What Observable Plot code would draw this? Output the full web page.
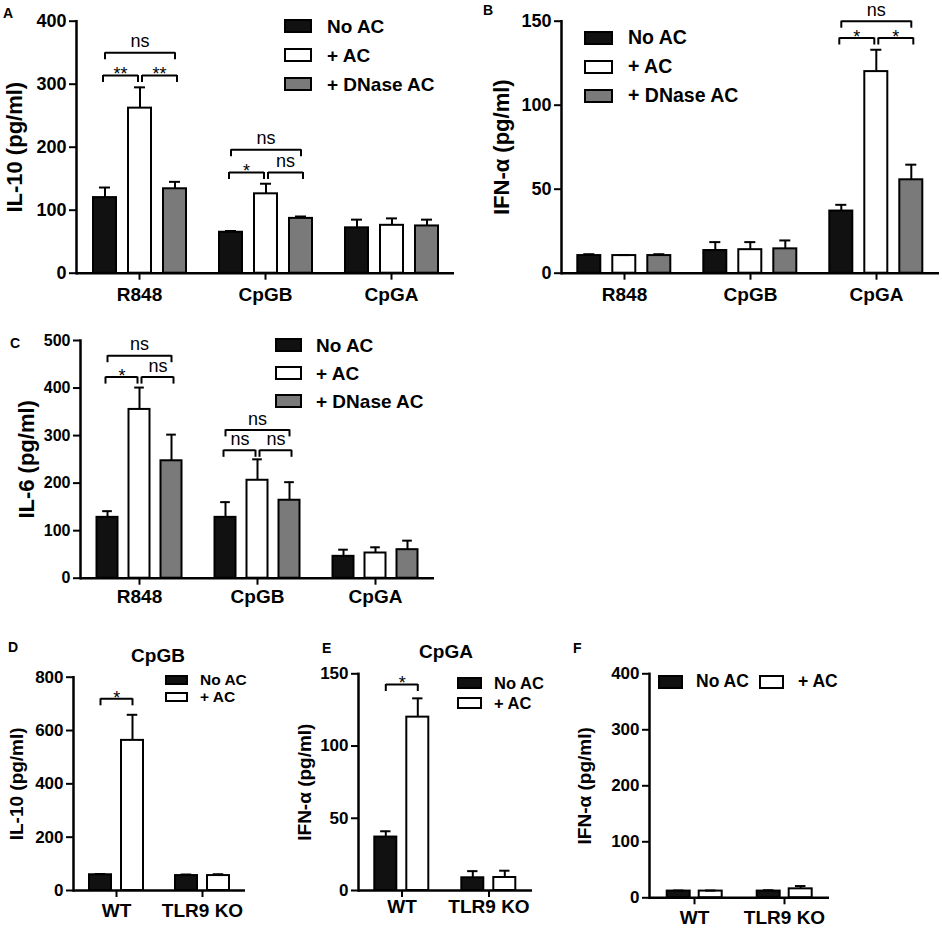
<!DOCTYPE html>
<html><head><meta charset="utf-8">
<script src="https://cdn.jsdelivr.net/npm/d3@7"></script>
<script src="https://cdn.jsdelivr.net/npm/@observablehq/plot@0.6"></script>
<style>
body{margin:0;background:#fff;}
#root{position:relative;width:942px;height:930px;overflow:hidden;font-family:"Liberation Sans",Arial,sans-serif;color:#000;}
.t{position:absolute;white-space:nowrap;line-height:1;font-weight:bold;}
.sw{position:absolute;box-sizing:border-box;border:2px solid #000;}
</style></head><body><div id="root"></div>
<script>
// ---------- data ----------
const groupsABC = ["R848", "CpGB", "CpGA"];
const seriesABC = ["No AC", "+ AC", "+ DNase AC"];
const groupsDEF = ["WT", "TLR9 KO"];
const seriesDEF = ["No AC", "+ AC"];

// A: IL-10 (pg/ml)
const il10Mean = [[120, 262, 134], [65, 126, 87], [72, 76, 75]];
const il10Err  = [[16, 33, 11], [2, 16, 3], [13, 11, 10]];
const ticksA = [0, 100, 200, 300, 400];
const bracketsA = [
  {group: "R848", from: "No AC", to: "+ DNase AC", level: 350, label: "ns"},
  {group: "R848", from: "No AC", to: "+ AC", level: 314, label: "**"},
  {group: "R848", from: "+ AC", to: "+ DNase AC", level: 314, label: "**"},
  {group: "CpGB", from: "No AC", to: "+ DNase AC", level: 196, label: "ns"},
  {group: "CpGB", from: "No AC", to: "+ AC", level: 160, label: "*"},
  {group: "CpGB", from: "+ AC", to: "+ DNase AC", level: 160, label: "ns"}
];

// B: IFN-α (pg/ml)
const ifnMean = [[10.5, 10.5, 10.5], [13.5, 14, 14.5], [37, 120, 55.6]];
const ifnErr  = [[0.8, 0.3, 0.8], [5, 4.5, 5], [3.7, 13, 9]];
const ticksB = [0, 50, 100, 150];
const bracketsB = [
  {group: "CpGA", from: "No AC", to: "+ DNase AC", level: 150, label: "ns"},
  {group: "CpGA", from: "No AC", to: "+ AC", level: 140, label: "*"},
  {group: "CpGA", from: "+ AC", to: "+ DNase AC", level: 140, label: "*"}
];

// C: IL-6 (pg/ml)
const il6Mean = [[128, 355, 247], [128, 206, 164], [46, 53, 60]];
const il6Err  = [[13, 46, 55], [32, 44, 38], [14, 12, 19]];
const ticksC = [0, 100, 200, 300, 400, 500];
const bracketsC = [
  {group: "R848", from: "No AC", to: "+ DNase AC", level: 468, label: "ns"},
  {group: "R848", from: "No AC", to: "+ AC", level: 423, label: "*"},
  {group: "R848", from: "+ AC", to: "+ DNase AC", level: 423, label: "ns"},
  {group: "CpGB", from: "No AC", to: "+ DNase AC", level: 312, label: "ns"},
  {group: "CpGB", from: "No AC", to: "+ AC", level: 269, label: "ns"},
  {group: "CpGB", from: "+ AC", to: "+ DNase AC", level: 269, label: "ns"}
];

// D: CpGB, IL-10 (pg/ml)
const dMean = [[59, 563], [56, 56]];
const dErr  = [[3, 96], [4, 5]];
const ticksD = [0, 200, 400, 600, 800];
const bracketsD = [{group: "WT", from: "No AC", to: "+ AC", level: 719, label: "*"}];

// E: CpGA, IFN-α (pg/ml)
const eMean = [[37, 120], [8.8, 9]];
const eErr  = [[4, 13], [4.6, 4.7]];
const ticksE = [0, 50, 100, 150];
const bracketsE = [{group: "WT", from: "No AC", to: "+ AC", level: 142.6, label: "*"}];

// F: IFN-α (pg/ml)
const fMean = [[12, 12], [12, 16]];
const fErr  = [[1, 1], [1.5, 5]];
const ticksF = [0, 100, 200, 300, 400];

// ---------- style ----------
const FILLS = ["#111111", "#ffffff", "#7a7a7a"];
const FONT = '"Liberation Sans", Arial, sans-serif';
const root = document.getElementById("root");

const rows = (groups, series, mean, err) =>
  groups.flatMap((g, gi) => series.map((s, si) => ({group: g, series: s, mean: mean[gi][si], err: err[gi][si]})));

function bracketMarks(br, series, step, sigFs) {
  return br.flatMap(b => {
    const i = series.indexOf(b.from), j = series.indexOf(b.to);
    const span = j - i;
    const shift = (span === 1 && series.length === 3) ? (i === 0 ? -2 : 2) : 0;
    const mid = span === 2 ? series[i + 1] : b.from;
    const tdx = (span === 2 ? 0 : step / 2) + shift;
    const isNs = b.label === "ns";
    const ends = [b.from, b.to].map(s => ({group: b.group, s, level: b.level}));
    return [
      Plot.link([b], {fx: "group", x1: "from", x2: "to", y1: "level", y2: "level", dx: shift, stroke: "#000", strokeWidth: 2}),
      Plot.ruleX(ends, {fx: "group", x: "s", y1: "level", y2: "level", insetBottom: -7, dx: shift, stroke: "#000", strokeWidth: 2}),
      Plot.text([b], {fx: "group", x: () => mid, y: "level", text: "label", dx: tdx, dy: isNs ? -11 : -1,
        fontSize: sigFs, fontWeight: "normal", fill: "#000"})
    ];
  });
}

function panel(c) {
  const data = rows(c.groups, c.series, c.mean, c.err);
  const nS = c.series.length;
  const step = c.band / (nS - c.pi + 2 * c.po);
  const bw = step * (1 - c.pi);
  const cap = bw * 0.26;
  const mr = c.w - c.ml - c.groups.length * c.band;
  const svg = Plot.plot({
    width: c.w, height: c.h,
    marginLeft: c.ml, marginRight: mr, marginTop: c.mt, marginBottom: c.mb,
    style: {fontFamily: FONT, fontWeight: "bold", color: "#000", background: "transparent", overflow: "visible",
      position: "absolute", left: c.left + "px", top: c.top + "px", maxWidth: "none"},
    fx: {domain: c.groups, padding: 0, label: null},
    x: {domain: c.series, paddingInner: c.pi, paddingOuter: c.po, axis: null},
    y: {domain: [0, c.ticks[c.ticks.length - 1]], label: null},
    color: {domain: c.series, range: FILLS.slice(0, nS)},
    marks: [
      Plot.barY(data, {fx: "group", x: "series", y: "mean", fill: "series", stroke: "#000", strokeWidth: 2}),
      Plot.ruleX(data, {fx: "group", x: "series", y1: "mean", y2: d => d.mean + d.err, stroke: "#000", strokeWidth: 2}),
      Plot.tickY(data, {fx: "group", x: "series", y: d => d.mean + d.err, stroke: "#000", strokeWidth: 2, insetLeft: cap, insetRight: cap}),
      Plot.ruleY([0], {stroke: "#000", strokeWidth: 2.5}),
      Plot.frame({anchor: "left", facetAnchor: "left", stroke: "#000", strokeWidth: 2.5}),
      Plot.axisY({ticks: c.ticks, tickSize: 7, tickPadding: 3, strokeWidth: 2, fontSize: c.tickFs, label: null, fill: "#000"}),
      Plot.axisFx({anchor: "bottom", tickSize: 7, tickPadding: c.fxPad, strokeWidth: 2, fontSize: c.fxFs, label: null, fill: "#000"}),
      Plot.text([c.ylabel], {frameAnchor: "left", facetAnchor: "left", rotate: -90, dx: c.labDx, textAnchor: "middle",
        lineAnchor: "middle", fontSize: c.labFs, text: d => d, fill: "#000"}),
      ...bracketMarks(c.brackets || [], c.series, step, c.sigFs || 18)
    ]
  });
  root.appendChild(svg);
}

function textAt(str, x, capTop, fs, anchor) {
  const d = document.createElement("div");
  d.className = "t";
  d.textContent = str;
  d.style.fontSize = fs + "px";
  d.style.top = (capTop - 0.131 * fs) + "px";
  d.style.left = x + "px";
  if (anchor === "middle") d.style.transform = "translateX(-50%)";
  root.appendChild(d);
}

function legend(series, items) {
  items.forEach((it, k) => {
    const s = document.createElement("div");
    s.className = "sw";
    Object.assign(s.style, {left: it.x + "px", top: it.y + "px", width: it.w + "px", height: it.h + "px", background: FILLS[k]});
    root.appendChild(s);
    textAt(series[k], it.tx, it.y + it.h / 2 - 0.358 * it.fs, it.fs);
  });
}

// ---------- panels ----------
panel({groups: groupsABC, series: seriesABC, mean: il10Mean, err: il10Err, ticks: ticksA, brackets: bracketsA,
  ylabel: "IL-10 (pg/ml)", left: 0, top: 0, w: 470, h: 300, ml: 76, mt: 20.7, mb: 27.3, band: 126, pi: 0.343, po: 0.47,
  fxPad: 7, tickFs: 18, fxFs: 19, labFs: 22, labDx: -62});
panel({groups: groupsABC, series: seriesABC, mean: ifnMean, err: ifnErr, ticks: ticksB, brackets: bracketsB,
  ylabel: "IFN-α (pg/ml)", left: 470, top: 0, w: 472, h: 300, ml: 90.7, mt: 20.7, mb: 27.3, band: 126, pi: 0.343, po: 0.47,
  fxPad: 7, tickFs: 18, fxFs: 19, labFs: 22, labDx: -60});
panel({groups: groupsABC, series: seriesABC, mean: il6Mean, err: il6Err, ticks: ticksC, brackets: bracketsC,
  ylabel: "IL-6 (pg/ml)", left: 0, top: 300, w: 470, h: 310, ml: 79.5, mt: 40, mb: 32.3, band: 118, pi: 0.34, po: 0.458,
  fxPad: 4.6, tickFs: 16, fxFs: 19, labFs: 22, labDx: -54});
panel({groups: groupsDEF, series: seriesDEF, mean: dMean, err: dErr, ticks: ticksD, brackets: bracketsD,
  ylabel: "IL-10 (pg/ml)", left: 0, top: 610, w: 260, h: 320, ml: 72, mt: 66.7, mb: 40, band: 86.5, pi: 0.323, po: 0.49,
  fxPad: 6, tickFs: 17, fxFs: 19, labFs: 19, labDx: -57});
panel({groups: groupsDEF, series: seriesDEF, mean: eMean, err: eErr, ticks: ticksE, brackets: bracketsE,
  ylabel: "IFN-α (pg/ml)", left: 280, top: 610, w: 260, h: 320, ml: 77.7, mt: 63.3, mb: 40, band: 87.5, pi: 0.32, po: 0.485,
  fxPad: 2, tickFs: 17, fxFs: 19, labFs: 19, labDx: -54});
panel({groups: groupsDEF, series: seriesDEF, mean: fMean, err: fErr, ticks: ticksF,
  ylabel: "IFN-α (pg/ml)", left: 565, top: 610, w: 300, h: 320, ml: 84.3, mt: 63.3, mb: 32.7, band: 90, pi: 0.27, po: 0.5,
  fxPad: 5.7, tickFs: 17, fxFs: 19, labFs: 19, labDx: -64.5});

// ---------- legends ----------
legend(seriesABC, [
  {x: 284, y: 19, w: 28, h: 14, tx: 327, fs: 19},
  {x: 284, y: 48, w: 28, h: 14, tx: 327, fs: 19},
  {x: 284, y: 77, w: 28, h: 14, tx: 327, fs: 19}]);
legend(seriesABC, [
  {x: 584, y: 31, w: 29, h: 14, tx: 628, fs: 19.5},
  {x: 584, y: 60, w: 29, h: 14, tx: 628, fs: 19.5},
  {x: 584, y: 89, w: 29, h: 14, tx: 628, fs: 19.5}]);
legend(seriesABC, [
  {x: 275, y: 338, w: 27, h: 14, tx: 316, fs: 19},
  {x: 275, y: 366, w: 27, h: 14, tx: 316, fs: 19},
  {x: 275, y: 394, w: 27, h: 14, tx: 316, fs: 19}]);
legend(seriesDEF, [
  {x: 165, y: 675, w: 23, h: 10, tx: 200, fs: 15.5},
  {x: 165, y: 692, w: 23, h: 10, tx: 200, fs: 15.5}]);
legend(seriesDEF, [
  {x: 457, y: 677, w: 25, h: 12, tx: 494, fs: 16.5},
  {x: 457, y: 697, w: 25, h: 12, tx: 494, fs: 16.5}]);
legend(seriesDEF, [
  {x: 658, y: 675, w: 25, h: 14, tx: 696, fs: 17.5},
  {x: 759, y: 675, w: 25, h: 14, tx: 798, fs: 17.5}]);

// ---------- panel letters and titles ----------
textAt("A", 3, 8, 14);
textAt("B", 483, 5, 14);
textAt("C", 10, 338, 14);
textAt("D", 8, 642, 14);
textAt("E", 322, 643, 14);
textAt("F", 573, 643, 14);
textAt("CpGB", 158, 648, 19, "middle");
textAt("CpGA", 446, 644, 19, "middle");
</script></body></html>
